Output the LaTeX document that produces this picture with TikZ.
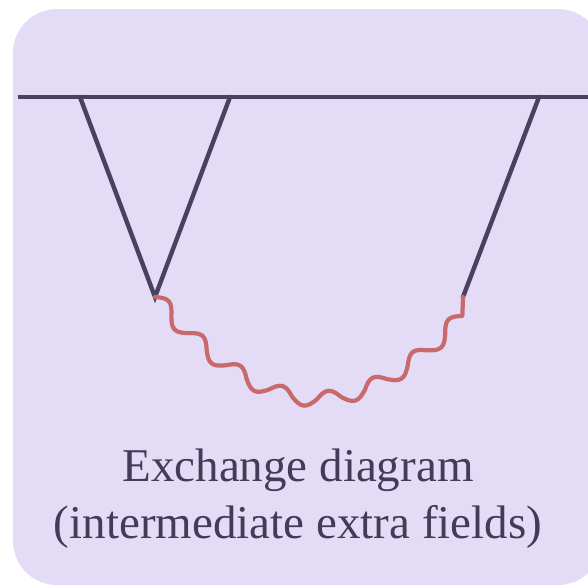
\documentclass[tikz,border=0pt]{standalone}
\usepackage{fontspec}
\setmainfont{Liberation Serif}
\usetikzlibrary{decorations}
\definecolor{bgcol}{HTML}{E4DCF6}
\definecolor{linecol}{HTML}{4A4160}
\definecolor{wavecol}{HTML}{C86A6C}
\definecolor{textcol}{HTML}{453A58}
\newdimen\hwdim
\hwdim=24.6pt
% half-wave decoration: the path is split into 15 half periods (7.5 waves)
\pgfdeclaredecoration{halfwaves}{start}{
  \state{start}[width=0pt, next state=inward,
                persistent precomputation={\pgfmathsetlength\hwdim{\pgfdecoratedpathlength/15.03}\global\hwdim=\hwdim}]{}
  \state{inward}[switch if less than=+\hwdim to final,
                 width=+\hwdim, next state=outward]{
    \pgfpathsine{\pgfqpoint{.5\hwdim}{\pgfdecorationsegmentamplitude}}
    \pgfpathcosine{\pgfqpoint{.5\hwdim}{-\pgfdecorationsegmentamplitude}}
  }
  \state{outward}[switch if less than=+\hwdim to final,
                  width=+\hwdim, next state=inward]{
    \pgfpathsine{\pgfqpoint{.5\hwdim}{-\pgfdecorationsegmentamplitude}}
    \pgfpathcosine{\pgfqpoint{.5\hwdim}{\pgfdecorationsegmentamplitude}}
  }
  \state{final}{\pgfpathlineto{\pgfpointdecoratedpathlast}}
}
\tikzset{
  fermion/.style={draw=linecol, line width=4.4pt, line cap=round},
  boson/.style={draw=wavecol, line width=4.2pt, line cap=round, line join=round,
    decorate, decoration={halfwaves, amplitude=7.5pt}},
  caption/.style={text=textcol, font=\fontsize{47}{57}\selectfont, anchor=base, inner sep=0pt}
}
\begin{document}
\begin{tikzpicture}[x=1pt,y=-1pt]
\useasboundingbox (0,0) rectangle (588,587);
\fill[bgcol, rounded corners=44pt] (13,9) rectangle (602,585);
\coordinate (h0) at (18,97);
\coordinate (h1) at (390,97);
\coordinate (h2) at (588,97);
\coordinate (a) at (80,97);
\coordinate (b) at (230,97);
\coordinate (c) at (539,97);
\coordinate (v1) at (155,297);
\coordinate (v2) at (463,297);
\draw[fermion, line cap=butt] (h0) -- (h1) -- (h2);
\draw[fermion] (a) -- (v1) -- (b);
\draw[fermion] (c) -- (v2);
\draw[boson] (v1) .. controls (265,421) and (353,421) .. (v2);
\node[caption] (t1) at (298,481) {Exchange diagram};
\node[caption] (t2) at (298,538) {(intermediate extra fields)};
\end{tikzpicture}
\end{document}
